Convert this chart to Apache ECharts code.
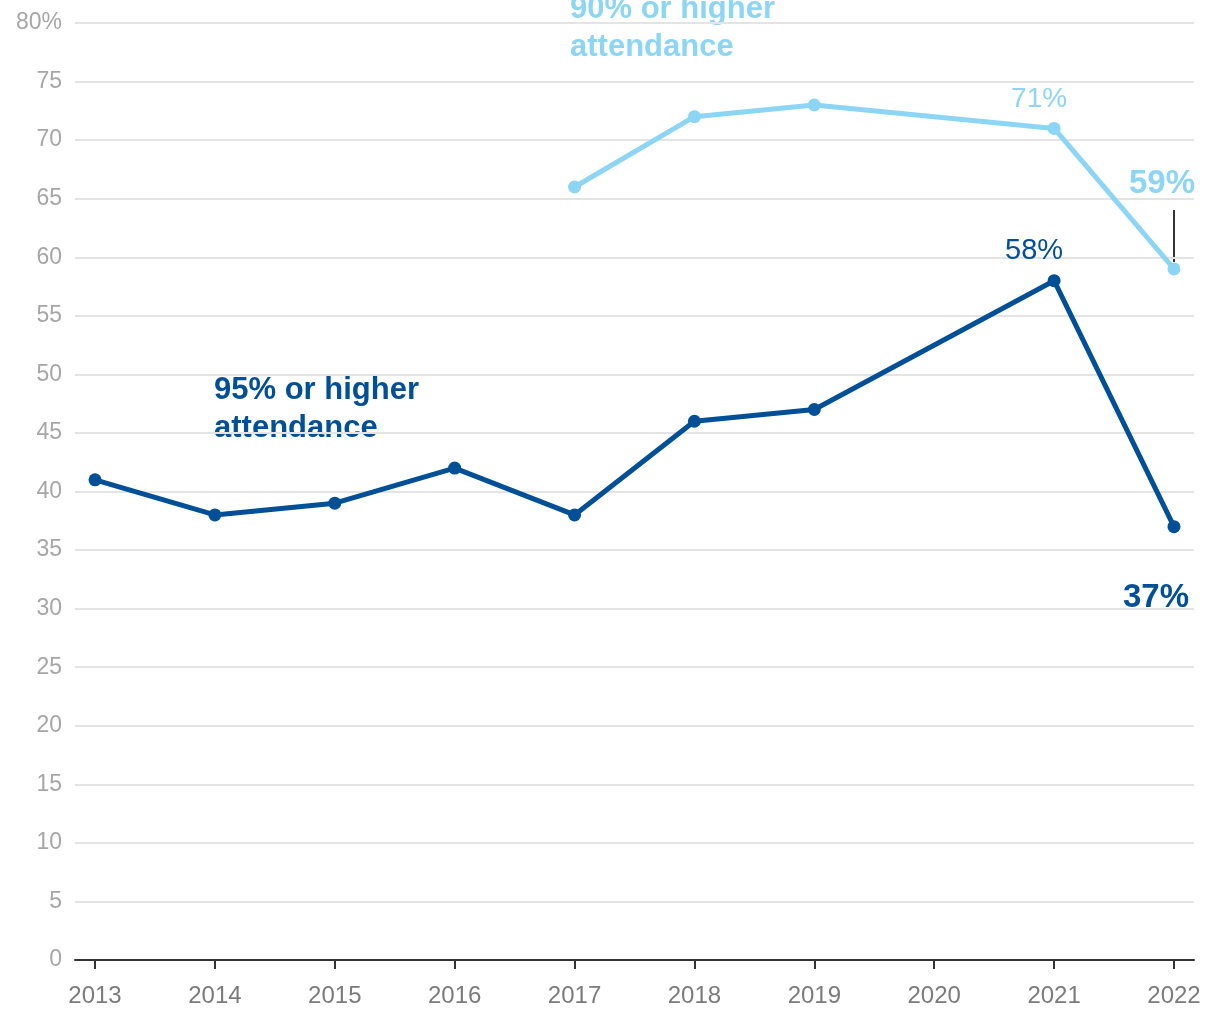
<!DOCTYPE html>
<html>
<head>
<meta charset="utf-8">
<script src="https://cdn.jsdelivr.net/npm/echarts@6/dist/echarts.min.js"></script>
<style>html,body{margin:0;padding:0;background:#fff}#c{width:1220px;height:1020px}</style>
</head>
<body>
<div id="c"></div>
<script>
var years = [2013, 2014, 2015, 2016, 2017, 2018, 2019, 2020, 2021, 2022];
var yTicks = [0, 5, 10, 15, 20, 25, 30, 35, 40, 45, 50, 55, 60, 65, 70, 75, 80];
var years95 = [2013, 2014, 2015, 2016, 2017, 2018, 2019, 2021, 2022];
var values95 = [41, 38, 39, 42, 38, 46, 47, 58, 37];
var years90 = [2017, 2018, 2019, 2021, 2022];
var values90 = [66, 72, 73, 71, 59];
var name95 = '95% or higher\nattendance';
var name90 = '90% or higher\nattendance';

var DARK = '#004f97';
var LIGHT = '#8dd5f4';
var FONT = 'Liberation Sans, Arial, sans-serif';

function labelFor(year, value, series) {
  if (series === 'dark' && year === 2021) return {show: true, position: 'inside', offset: [-20, -30], formatter: value + '%', color: DARK, fontSize: 29, fontFamily: FONT};
  if (series === 'dark' && year === 2022) return {show: true, position: 'inside', offset: [-18, 71], formatter: value + '%', color: DARK, fontSize: 33, fontWeight: 'bold', fontFamily: FONT};
  if (series === 'light' && year === 2021) return {show: true, position: 'inside', offset: [-15, -29], formatter: value + '%', color: LIGHT, fontSize: 28, fontFamily: FONT};
  if (series === 'light' && year === 2022) return {show: true, position: 'inside', offset: [-12, -85], formatter: value + '%', color: LIGHT, fontSize: 33, fontWeight: 'bold', fontFamily: FONT};
  return null;
}
function build(ys, vs, s) {
  return ys.map(function (y, i) {
    var d = {value: [y, vs[i]]};
    var l = labelFor(y, vs[i], s);
    if (l) d.label = l;
    return d;
  });
}

var chart = echarts.init(document.getElementById('c'));
chart.setOption({
  animation: false,
  backgroundColor: '#fff',
  grid: {left: 75, right: 26, top: 23, bottom: 60, containLabel: false},
  xAxis: {
    type: 'value',
    min: 2012.833,
    max: 2022.167,
    splitLine: {show: false},
    axisLine: {show: true, onZero: false, lineStyle: {color: '#333', width: 2}},
    axisTick: {show: true, customValues: years, length: 9, lineStyle: {color: '#333', width: 2}},
    axisLabel: {customValues: years, formatter: function (v) { return String(Math.round(v)); }, color: '#7b7b7b', fontSize: 24, fontFamily: FONT, margin: 24}
  },
  yAxis: {
    type: 'value',
    min: 0,
    max: 80,
    interval: 5,
    axisLine: {show: false},
    axisTick: {show: false},
    splitLine: {show: true, lineStyle: {color: '#e4e4e4', width: 2}},
    axisLabel: {
      color: '#a6a6a6', fontSize: 23, fontFamily: FONT, margin: 13, padding: [5, 0, 0, 0],
      formatter: function (v) { return v === yTicks[yTicks.length - 1] ? v + '%' : String(v); }
    }
  },
  series: [
    {
      type: 'line', name: name90, data: build(years90, values90, 'light'),
      symbol: 'circle', symbolSize: 13, connectNulls: true,
      lineStyle: {color: LIGHT, width: 5}, itemStyle: {color: LIGHT},
      label: {show: false}
    },
    {
      type: 'line', name: name95, data: build(years95, values95, 'dark'),
      symbol: 'circle', symbolSize: 13, connectNulls: true,
      lineStyle: {color: DARK, width: 5}, itemStyle: {color: DARK},
      label: {show: false}
    }
  ],
  graphic: [
    {type: 'text', left: 214, top: 371, style: {text: name95, fill: DARK, fontSize: 31, fontWeight: 'bold', fontFamily: FONT, lineHeight: 38}},
    {type: 'text', left: 570, top: -10, style: {text: name90, fill: LIGHT, fontSize: 31, fontWeight: 'bold', fontFamily: FONT, lineHeight: 38}},
    {type: 'line', shape: {x1: 1174, y1: 210, x2: 1174, y2: 262}, style: {stroke: '#333', lineWidth: 2}}
  ]
});
</script>
</body>
</html>
